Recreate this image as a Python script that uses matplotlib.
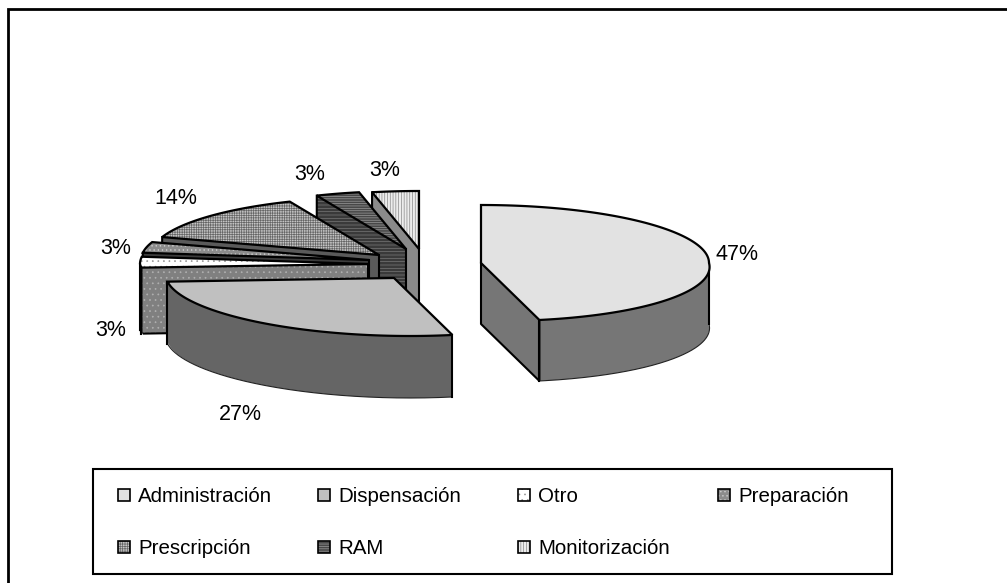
import numpy as np
import matplotlib
matplotlib.use("Agg")
import matplotlib.pyplot as plt
from matplotlib.patches import Polygon, Rectangle

categories = ["Administración", "Dispensación", "Otro", "Preparación",
              "Prescripción", "RAM", "Monitorización"]
# the labels show them rounded
shares = [47, 27, 3, 3, 13.6, 3.1, 3.3]

# exploded slice centres in pixels, same order as categories
centers = [(481, 263), (394, 278), (368, 264), (369, 260),
           (379, 255), (406, 249), (419, 249)]
depths = [61, 62, 66, 61, 61, 61, 61]
top_colors = ["#e2e2e2", "#c0c0c0", "#ffffff", "#8c8c8c", "#c4c4c4", "#484848", "#ececec"]
wall_colors = ["#767676", "#656565", "#808080", "#3c3c3c", "#5a5a5a", "#3a3a3a", "#8a8a8a"]
top_hatch = ["", "", "...", "....", "+++++++", "-------", "||||||"]
hatch_colors = ["#e2e2e2", "#c0c0c0", "#999999", "#cfcfcf", "#666666", "#9a9a9a", "#888888"]
wall_hatch = ["", "", "...", "", "", "-----", ""]
wall_hatch_colors = ["#767676", "#656565", "#b0b0b0", "#3c3c3c", "#5a5a5a", "#777777", "#8a8a8a"]
label_pos = [(737, 254), (240, 414), (111, 331), (116, 248), (176, 199), (310, 175), (385, 170)]

RX, RY = 228, 58
SKEW = 0.07  # lower half of the pie is a bit wider, perspective of the 3D chart

plt.rcParams["font.family"] = ["Liberation Sans", "DejaVu Sans"]
plt.rcParams["hatch.linewidth"] = 0.5


def ellipse_pts(center, t0, t1):
    t = np.radians(np.linspace(t0, t1, max(int(abs(t1 - t0)) * 2, 2)))
    x = center[0] + RX * (np.sin(t) + SKEW * np.clip(-np.cos(t), 0, None))
    y = center[1] - RY * np.cos(t)
    return np.column_stack([x, y])


def fill(ax, pts, color, z, hatch="", hatch_color=None):
    ax.add_patch(Polygon(pts, closed=True, facecolor=color, edgecolor=hatch_color or color,
                         hatch=hatch or None, lw=0, zorder=z))


def draw_slice(ax, i, t0, t1, z):
    c = np.array(centers[i], dtype=float)
    down = np.array([0, depths[i]])
    arc = ellipse_pts(c, t0, t1)
    wc, wh, whc = wall_colors[i], wall_hatch[i], wall_hatch_colors[i]

    # radial walls, only the ones facing the viewer
    for t, visible in ((t0, 180 <= t0 < 360), (t1, 0 < t1 < 180)):
        if visible:
            p = ellipse_pts(c, t, t + 0.01)[0]
            wall = np.array([c, p, p + down, c + down])
            fill(ax, wall, wc, z, wh, whc)
            ax.plot(*np.array([p, p + down, c + down, c]).T, color="black", lw=1.5, zorder=z + 0.1)

    # outer round wall
    a0, a1 = max(t0, 90), min(t1, 270)
    if a1 > a0:
        rim = ellipse_pts(c, a0, a1)
        fill(ax, np.vstack([rim, (rim + down)[::-1]]), wc, z, wh, whc)
        low = rim + down
        ax.plot(low[:, 0] + 0.5, low[:, 1] + 1, color="white", lw=1.2, zorder=z + 0.1)
        ax.plot(low[:, 0], low[:, 1], color="#222222", lw=0.8, zorder=z + 0.1)
        for p in (rim[0], rim[-1]):
            ax.plot([p[0], p[0]], [p[1], p[1] + down[1]], color="black", lw=1.5, zorder=z + 0.1)

    # top face
    top = np.vstack([c, arc])
    fill(ax, top, top_colors[i], z + 0.2, top_hatch[i], hatch_colors[i])
    ax.add_patch(Polygon(top, closed=True, fill=False, edgecolor="black", lw=1.6,
                         joinstyle="miter", zorder=z + 0.3))


fig = plt.figure(figsize=(10.07, 5.83), dpi=100)
ax = fig.add_axes([0, 0, 1, 1])
ax.set_xlim(0, 1007)
ax.set_ylim(583, 0)
ax.axis("off")

# chart frame is cut off at the right and bottom of the picture
ax.plot([8, 8, 1007], [583, 9, 9], color="black", lw=2, solid_joinstyle="miter")
ax.add_patch(Rectangle((93, 469), 799, 105, fill=False, edgecolor="black", lw=1.5))

ends = np.cumsum(shares) * 3.6
starts = ends - np.array(shares) * 3.6

# back slices first so the front ones paint over them
for z, i in enumerate([6, 5, 4, 3, 2, 1, 0]):
    draw_slice(ax, i, starts[i], ends[i], z + 2)

for i, pct in enumerate(shares):
    ax.text(label_pos[i][0], label_pos[i][1], f"{pct:.0f}%", fontsize=15.5, ha="center", va="center", zorder=20)

# legend, 4 columns
col_x = [118, 318, 518, 718]
row_y = [495, 547]
for i, name in enumerate(categories):
    x, y = col_x[i % 4], row_y[i // 4]
    ax.add_patch(Rectangle((x, y - 6), 12, 12, facecolor=top_colors[i], edgecolor=hatch_colors[i],
                           hatch=top_hatch[i] or None, lw=0, zorder=20))
    ax.add_patch(Rectangle((x, y - 6), 12, 12, fill=False, edgecolor="black", lw=1.2, zorder=21))
    ax.text(x + 20, y + 1, name, fontsize=14.8, ha="left", va="center", zorder=20)

fig.savefig("out.png", dpi=100)
